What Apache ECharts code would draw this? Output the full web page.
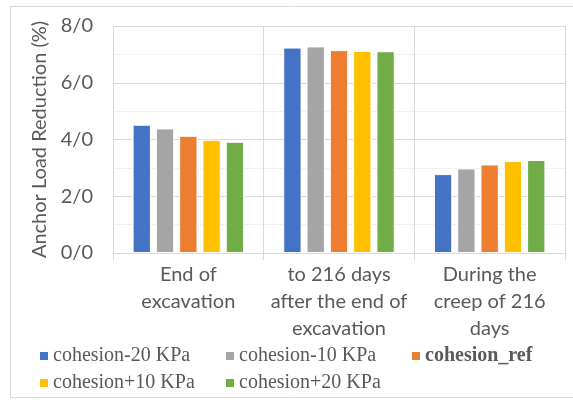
<!DOCTYPE html>
<html>
<head>
<meta charset="utf-8">
<script src="https://cdn.jsdelivr.net/npm/echarts@6/dist/echarts.min.js"></script>
<style>html,body{margin:0;padding:0;background:#fff;}#chart{width:573px;height:400px;}</style>
</head>
<body>
<div id="chart"></div>
<script>
// anchor load reduction per stage, one array per cohesion case
var categories = ['End of\nexcavation', 'to 216 days\nafter the end of\nexcavation', 'During the\ncreep of 216\ndays'];
var seriesNames = ['cohesion-20 KPa', 'cohesion-10 KPa', 'cohesion_ref', 'cohesion+10 KPa', 'cohesion+20 KPa'];
var cohMinus20 = [4.52, 7.24, 2.78];
var cohMinus10 = [4.39, 7.28, 2.98];
var cohRef     = [4.13, 7.15, 3.12];
var cohPlus10  = [3.99, 7.12, 3.24];
var cohPlus20  = [3.92, 7.11, 3.28];
var yTicks = [0, 2, 4, 6, 8];

var colors = ['#4472C4', '#A5A5A5', '#ED7D31', '#FFC000', '#70AD47'];
var values = [cohMinus20, cohMinus10, cohRef, cohPlus10, cohPlus20];

var series = seriesNames.map(function(n, i){
  return {
    name: n, type: 'bar', data: values[i],
    barGap: '27%', barCategoryGap: '26%',
    itemStyle: {color: colors[i], borderColor: '#fff', borderWidth: 1}
  };
});

// legend is laid out in two rows of fixed columns, like the Excel original
var legPos = [[38, 346], [224, 346], [410, 346], [38, 373], [224, 373]];
var legends = seriesNames.map(function(n, i){
  return {
    data: [n], left: legPos[i][0], top: legPos[i][1],
    itemWidth: 10, itemHeight: 10, itemGap: 4, padding: 0,
    icon: 'rect', selectedMode: false,
    textStyle: {fontFamily: 'Liberation Serif', fontSize: 20, color: '#595959',
      fontWeight: n === 'cohesion_ref' ? 'bold' : 'normal', padding: [0, 0, 0, -1]}
  };
});

var chart = echarts.init(document.getElementById('chart'));
chart.setOption({
  animation: false,
  backgroundColor: '#fff',
  graphic: [{type: 'rect', shape: {x: 10.5, y: 6.5, width: 572, height: 391},
    style: {fill: 'none', stroke: '#d9d9d9', lineWidth: 1}, silent: true}],
  grid: {left: 113, right: 8, top: 26, bottom: 147},
  legend: legends,
  xAxis: {
    type: 'category', data: categories,
    axisLine: {lineStyle: {color: '#d9d9d9', width: 1}},
    axisTick: {show: true, length: 7, lineStyle: {color: '#d9d9d9'}},
    splitLine: {show: true, lineStyle: {color: '#d9d9d9', width: 1}},
    axisLabel: {fontFamily: 'Lato', fontSize: 20, color: '#595959', lineHeight: 27, margin: 8, interval: 0}
  },
  yAxis: {
    type: 'value', min: yTicks[0], max: yTicks[yTicks.length - 1], interval: 2,
    name: 'Anchor Load Reduction (%)', nameLocation: 'middle', nameGap: 57,
    nameTextStyle: {fontFamily: 'Lato', fontSize: 20, color: '#595959'},
    axisLine: {show: false}, axisTick: {show: false},
    axisLabel: {fontFamily: 'Lato', fontSize: 20, color: '#595959', margin: 20,
      formatter: function(v){ return v.toFixed(1).replace('.', '/'); }},
    splitLine: {lineStyle: {color: '#d9d9d9', width: 1}},
    minorTick: {show: false, splitNumber: 2},
    minorSplitLine: {show: true, lineStyle: {color: '#f0f0f0', width: 1}}
  },
  series: series
});
</script>
</body>
</html>
